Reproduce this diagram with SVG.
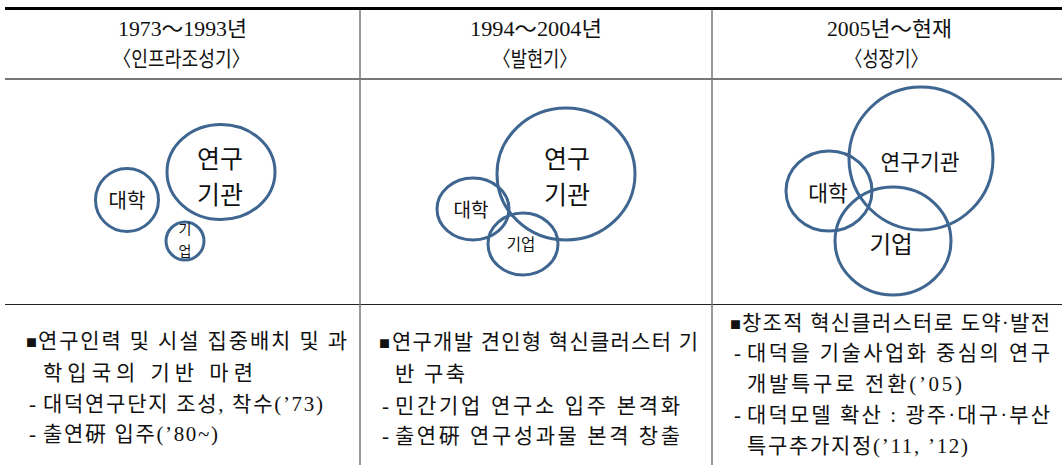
<svg xmlns="http://www.w3.org/2000/svg" width="1062" height="465" viewBox="0 0 1062 465">
<style>
.hd{font-family:"Liberation Serif","Noto Sans CJK KR",serif;font-size:21px;fill:#111}
.bd{font-family:"Liberation Serif","Noto Sans CJK KR",serif;font-size:21px;fill:#111}
.sq{font-family:"Noto Sans CJK KR",sans-serif;font-size:11px;fill:#111}
.c{fill:none;stroke:#3e6690;stroke-width:3}
.lb{font-family:"Noto Sans CJK KR","Noto Sans",sans-serif;fill:#111;text-anchor:middle}
</style>
<rect width="1062" height="465" fill="#fff"/>
<g id="table">
<line x1="5" y1="8.5" x2="1062" y2="8.5" stroke="#000" stroke-width="3"/>
<line x1="5" y1="79" x2="1062" y2="79" stroke="#777" stroke-width="2"/>
<line x1="5" y1="304.5" x2="1062" y2="304.5" stroke="#222" stroke-width="1"/>
<line x1="360" y1="10" x2="360" y2="465" stroke="#777" stroke-width="1.5"/>
<line x1="712" y1="10" x2="712" y2="465" stroke="#777" stroke-width="1.5"/>
</g>
<g id="headers">
<text class="hd" x="118" y="36" textLength="129" lengthAdjust="spacingAndGlyphs">1973～1993년</text>
<text class="hd" x="113" y="66" textLength="137" lengthAdjust="spacingAndGlyphs">〈인프라조성기〉</text>
<text class="hd" x="470" y="36" textLength="132" lengthAdjust="spacingAndGlyphs">1994～2004년</text>
<text class="hd" x="493" y="66" textLength="84" lengthAdjust="spacingAndGlyphs">〈발현기〉</text>
<text class="hd" x="827" y="36" textLength="125" lengthAdjust="spacingAndGlyphs">2005년～현재</text>
<text class="hd" x="845" y="66" textLength="83" lengthAdjust="spacingAndGlyphs">〈성장기〉</text>
</g>
<g id="col1-diagram">
<g id="n1-univ"><circle class="c" cx="127" cy="200" r="31.5"/><text class="lb" x="127" y="208" font-size="20">대학</text></g>
<g id="n1-inst"><ellipse class="c" cx="221" cy="172" rx="54" ry="47.5"/><text class="lb" font-size="25"><tspan x="220" y="168">연구</tspan><tspan x="220" y="204">기관</tspan></text></g>
<g id="n1-corp"><circle class="c" cx="185" cy="241" r="19"/><text class="lb" font-size="14"><tspan x="185" y="234">기</tspan><tspan x="185" y="256">업</tspan></text></g>
</g>
<g id="col2-diagram">
<g id="n2-inst"><ellipse class="c" cx="566" cy="174" rx="69" ry="66"/><text class="lb" font-size="25"><tspan x="567" y="168">연구</tspan><tspan x="567" y="204">기관</tspan></text></g>
<g id="n2-univ"><ellipse class="c" cx="473" cy="209" rx="36" ry="31"/><text class="lb" x="471" y="217" font-size="19">대학</text></g>
<g id="n2-corp"><ellipse class="c" cx="523" cy="244" rx="35" ry="31"/><text class="lb" x="521" y="250" font-size="15.5">기업</text></g>
</g>
<g id="col3-diagram">
<g id="n3-inst"><ellipse class="c" cx="921" cy="158.5" rx="72" ry="71.5"/><text class="lb" x="920" y="170" font-size="21.5">연구기관</text></g>
<g id="n3-univ"><ellipse class="c" cx="829" cy="191" rx="43" ry="40"/><text class="lb" x="828" y="201" font-size="21.5">대학</text></g>
<g id="n3-corp"><ellipse class="c" cx="893" cy="241" rx="58" ry="54"/><text class="lb" x="891" y="253" font-size="23.5">기업</text></g>
</g>
<g id="col1-text">
<text class="sq" x="26" y="347">■</text>
<text class="bd" x="38" y="348" textLength="309" lengthAdjust="spacing">연구인력 및 시설 집중배치 및 과</text>
<text class="bd" x="43" y="380" textLength="210" lengthAdjust="spacing">학입국의 기반 마련</text>
<text class="bd" x="29" y="411">-</text>
<text class="bd" x="43" y="411" textLength="280" lengthAdjust="spacing">대덕연구단지 조성, 착수(’73)</text>
<text class="bd" x="29" y="441">-</text>
<text class="bd" x="43" y="441" textLength="175" lengthAdjust="spacing">출연硏  입주(’80~)</text>
</g>
<g id="col2-text">
<text class="sq" x="379" y="348">■</text>
<text class="bd" x="392" y="349" textLength="306" lengthAdjust="spacing">연구개발 견인형 혁신클러스터 기</text>
<text class="bd" x="395" y="381" textLength="70" lengthAdjust="spacing">반 구축</text>
<text class="bd" x="382" y="413">-</text>
<text class="bd" x="395" y="413" textLength="285" lengthAdjust="spacing">민간기업 연구소 입주 본격화</text>
<text class="bd" x="382" y="443">-</text>
<text class="bd" x="395" y="443" textLength="285" lengthAdjust="spacing">출연硏 연구성과물 본격 창출</text>
</g>
<g id="col3-text">
<text class="sq" x="730" y="329">■</text>
<text class="bd" x="742" y="330" textLength="308" lengthAdjust="spacing">창조적 혁신클러스터로 도약·발전</text>
<text class="bd" x="734" y="360">-</text>
<text class="bd" x="747" y="360" textLength="303" lengthAdjust="spacing">대덕을 기술사업화 중심의 연구</text>
<text class="bd" x="747" y="391" textLength="215" lengthAdjust="spacing">개발특구로 전환(’05)</text>
<text class="bd" x="734" y="422">-</text>
<text class="bd" x="747" y="422" textLength="303" lengthAdjust="spacing">대덕모델 확산 : 광주·대구·부산</text>
<text class="bd" x="747" y="453" textLength="221" lengthAdjust="spacing">특구추가지정(’11, ’12)</text>
</g>
</svg>
